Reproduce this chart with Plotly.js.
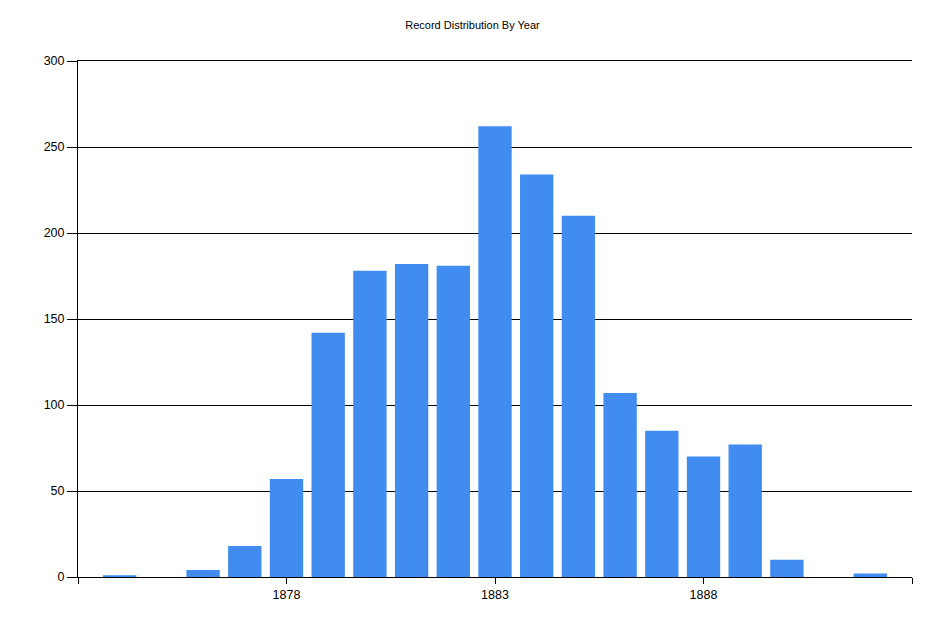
<!DOCTYPE html>
<html><head><meta charset="utf-8">
<script src="https://cdn.plot.ly/plotly-3.0.1.min.js"></script>
<style>body{margin:0;background:#fff}#c{width:945px;height:630px}</style>
</head><body><div id="c"></div>
<script>
const years = [1874,1875,1876,1877,1878,1879,1880,1881,1882,1883,1884,1885,1886,1887,1888,1889,1890,1891,1892];
const counts = [1,0,4,18,57,142,178,182,181,262,234,210,107,85,70,77,10,0,2];
const xTickVals = [1873,1878,1883,1888,1893];
const xTickText = ['','1878','1883','1888',''];
const yTickVals = [0,50,100,150,200,250,300];

Plotly.newPlot('c', [{
  type:'bar', x:years, y:counts,
  marker:{color:'#418CF0', line:{width:0}},
  width:0.8, hoverinfo:'x+y'
}], {
  width:945, height:630,
  margin:{l:78, r:33, t:61, b:53},
  paper_bgcolor:'#fff', plot_bgcolor:'#fff',
  title:{text:'Record Distribution By Year', x:0.5, xanchor:'center', y:0.96, yanchor:'middle',
    font:{family:'Liberation Sans, Arial, sans-serif', size:11, color:'#000'}},
  font:{family:'Liberation Sans, Arial, sans-serif', size:12.5, color:'#000'},
  bargap:0.2,
  xaxis:{range:[1873,1893], tickmode:'array', tickvals:xTickVals, ticktext:xTickText,
    showgrid:false, zeroline:false, showline:true, mirror:true, linecolor:'#000', linewidth:1,
    ticks:'outside', ticklen:6, tickcolor:'#000', tickwidth:1,
    tickfont:{size:12.5, color:'#000'}, fixedrange:true},
  yaxis:{range:[0,300], tickmode:'array', tickvals:yTickVals,
    showgrid:true, gridcolor:'#000', gridwidth:1, zeroline:false,
    showline:true, linecolor:'#000', linewidth:1,
    ticks:'outside', ticklen:10, tickcolor:'#000', tickwidth:1,
    tickfont:{size:12.5, color:'#000'}, layer:'below traces', fixedrange:true},
  showlegend:false
}, {displayModeBar:false, staticPlot:true});
</script></body></html>
